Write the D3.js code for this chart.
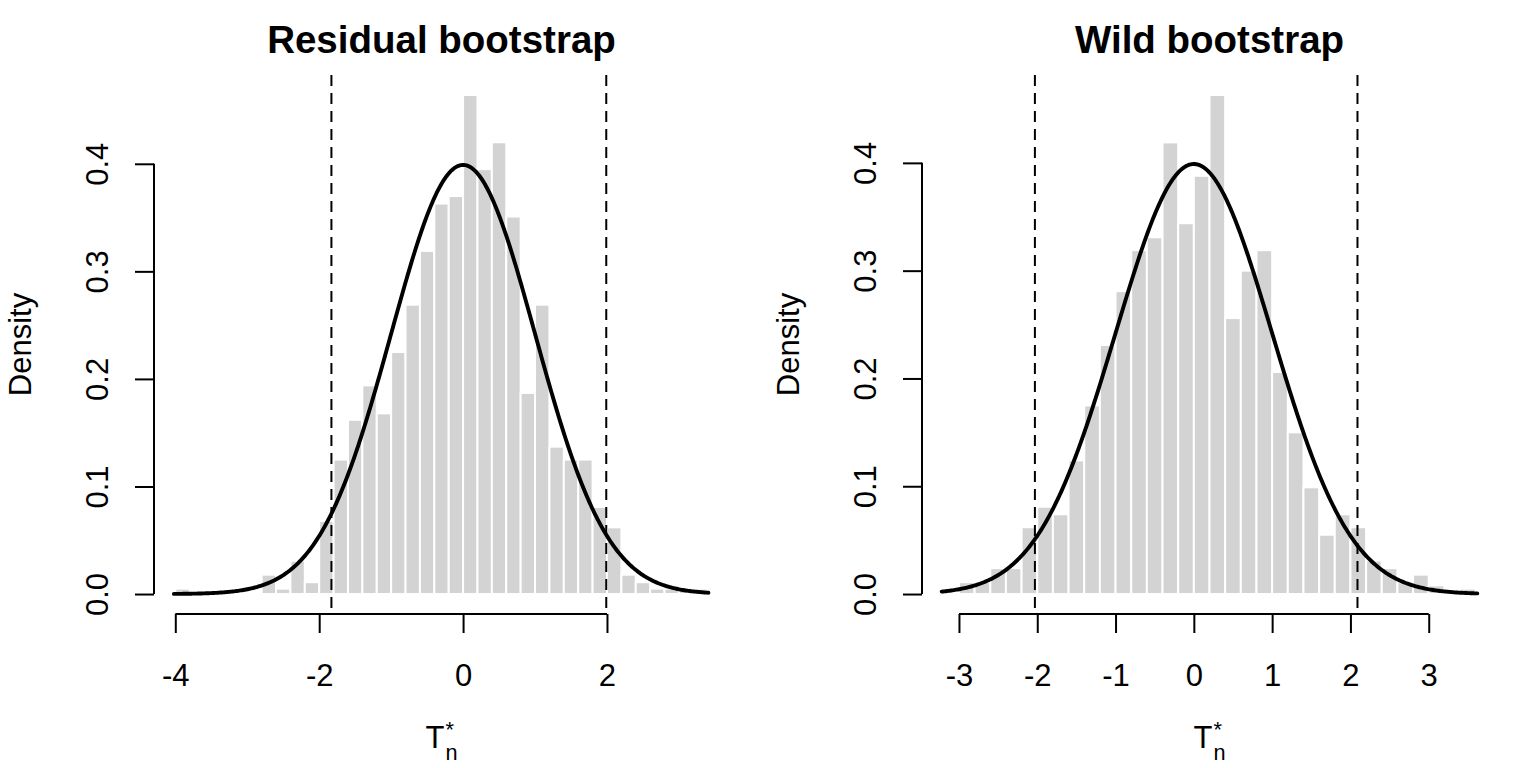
<!DOCTYPE html>
<html>
<head>
<meta charset="utf-8">
<script src="https://cdn.jsdelivr.net/npm/d3@7"></script>
<style>
  html, body { margin: 0; padding: 0; background: #ffffff; }
  svg { display: block; }
  text { font-family: "Liberation Sans", Arial, Helvetica, sans-serif; fill: #000; }
</style>
</head>
<body>
<svg id="chart" width="1536" height="768"></svg>
<script>
// ---------------- data ----------------
const panelTitles = ["Residual bootstrap", "Wild bootstrap"];
const binWidth = 0.2;

// Residual bootstrap histogram (density per bin), first break = -4.0
const residualBreakStart = -4.0;
const residualDensity = [
  0.005, 0, 0, 0, 0, 0, 0.018, 0.005, 0.031, 0.011,
  0.068, 0.125, 0.162, 0.194, 0.168, 0.225, 0.269, 0.319, 0.363, 0.370,
  0.464, 0.395, 0.420, 0.351, 0.187, 0.269, 0.137, 0.125, 0.125, 0.081,
  0.062, 0.018, 0.011, 0.005, 0.005, 0.005, 0.005
];
const residualXlim = [-4.0, 3.4];
const residualTicks = [-4, -2, 0, 2];
const residualCritical = [-1.83, 1.99];
const residualCurveRange = [-4.02, 3.41];

// Wild bootstrap histogram (density per bin), first break = -3.2
const wildBreakStart = -3.2;
const wildDensity = [
  0, 0.011, 0.011, 0.024, 0.024, 0.062, 0.081, 0.074, 0.124, 0.175,
  0.231, 0.281, 0.319, 0.331, 0.419, 0.344, 0.388, 0.463, 0.256, 0.300,
  0.319, 0.206, 0.150, 0.099, 0.055, 0.074, 0.062, 0.031, 0.024, 0.011,
  0.018, 0.008, 0, 0.005
];
const wildXlim = [-3.2, 3.6];
const wildTicks = [-3, -2, -1, 0, 1, 2, 3];
const wildCritical = [-2.03, 2.09];
const wildCurveRange = [-3.22, 3.62];

const densityTicks = [0, 0.1, 0.2, 0.3, 0.4];
// reference N(0,1) density overlay parameters
const normalMean = 0, normalSd = 1;

// ---------------- drawing ----------------
const svg = d3.select("#chart");
const panelW = 768;
const mLeft = 154, mRight = 39, plotTop = 75, plotBottom = 614;
const baseFont = 31;
const titleFont = 38.5;
const tickLen = 19;

function dnorm(v) {
  const z = (v - normalMean) / normalSd;
  return Math.exp(-0.5 * z * z) / (normalSd * Math.sqrt(2 * Math.PI));
}

const panels = [
  { title: panelTitles[0], start: residualBreakStart, dens: residualDensity, xlim: residualXlim,
    ticks: residualTicks, crit: residualCritical, curve: residualCurveRange },
  { title: panelTitles[1], start: wildBreakStart, dens: wildDensity, xlim: wildXlim,
    ticks: wildTicks, crit: wildCritical, curve: wildCurveRange }
];

panels.forEach((p, i) => {
  const ox = i * panelW;
  const g = svg.append("g");
  const xr = p.xlim[1] - p.xlim[0];
  const x = d3.scaleLinear()
    .domain([p.xlim[0] - 0.04 * xr, p.xlim[1] + 0.04 * xr])
    .range([ox + mLeft, ox + panelW - mRight]);
  const ymax = d3.max(p.dens);
  const y = d3.scaleLinear()
    .domain([-0.04 * ymax, 1.04 * ymax])
    .range([plotBottom, plotTop]);

  const bins = p.dens.map((d, k) => ({ x0: p.start + k * binWidth, x1: p.start + (k + 1) * binWidth, d }));

  // bars
  g.append("g").selectAll("rect").data(bins.filter(b => b.d > 0)).join("rect")
    .attr("x", b => x(b.x0))
    .attr("width", b => x(b.x1) - x(b.x0))
    .attr("y", b => y(b.d))
    .attr("height", b => y(0) - y(b.d))
    .attr("fill", "#d3d3d3")
    .attr("stroke", "#ffffff")
    .attr("stroke-width", 2);

  // normal density curve
  const n = 400;
  const xs = d3.range(n + 1).map(k => p.curve[0] + (p.curve[1] - p.curve[0]) * k / n);
  g.append("path")
    .datum(xs)
    .attr("d", d3.line().x(v => x(v)).y(v => y(dnorm(v))))
    .attr("fill", "none")
    .attr("stroke", "#000")
    .attr("stroke-width", 3.9)
    .attr("stroke-linejoin", "round")
    .attr("stroke-linecap", "round");

  // critical value dashed lines
  g.append("g").selectAll("line").data(p.crit).join("line")
    .attr("x1", c => x(c)).attr("x2", c => x(c))
    .attr("y1", plotTop).attr("y2", plotBottom)
    .attr("stroke", "#000")
    .attr("stroke-width", 2)
    .attr("stroke-dasharray", "11,7");

  // x axis
  const xAxis = d3.axisBottom(x).tickValues(p.ticks).tickSize(tickLen).tickPadding(31)
    .tickFormat(d3.format("d"));
  const gx = g.append("g").attr("transform", `translate(0,${plotBottom})`).call(xAxis);
  gx.select(".domain").remove();
  gx.append("line")
    .attr("x1", x(p.ticks[0])).attr("x2", x(p.ticks[p.ticks.length - 1]))
    .attr("y1", 0).attr("y2", 0)
    .attr("stroke", "#000").attr("stroke-width", 2);
  gx.selectAll(".tick line").attr("stroke-width", 2);
  gx.selectAll(".tick text")
    .attr("font-size", baseFont)
    .attr("font-family", "Liberation Sans, Arial, sans-serif")
    .text(d => d < 0 ? "-" + Math.abs(d) : String(d));

  // y axis
  const yAxisPos = ox + mLeft;
  const yAxis = d3.axisLeft(y).tickValues(densityTicks).tickSize(tickLen)
    .tickFormat(d3.format(".1f"));
  const gy = g.append("g").attr("transform", `translate(${yAxisPos},0)`).call(yAxis);
  gy.select(".domain").remove();
  gy.append("line")
    .attr("x1", 0).attr("x2", 0)
    .attr("y1", y(densityTicks[0])).attr("y2", y(densityTicks[densityTicks.length - 1]))
    .attr("stroke", "#000").attr("stroke-width", 2);
  gy.selectAll(".tick line").attr("stroke-width", 2);
  gy.selectAll(".tick text")
    .attr("font-size", baseFont)
    .attr("font-family", "Liberation Sans, Arial, sans-serif")
    .attr("x", null).attr("dy", null)
    .attr("text-anchor", "middle")
    .attr("transform", "translate(-46,0) rotate(-90)");

  // titles
  const cx = (x.range()[0] + x.range()[1]) / 2;
  g.append("text")
    .attr("x", cx).attr("y", 53)
    .attr("text-anchor", "middle")
    .attr("font-size", titleFont)
    .attr("font-weight", "bold")
    .text(p.title);

  // y label
  g.append("text")
    .attr("transform", `translate(${ox + 31},${(plotTop + plotBottom) / 2}) rotate(-90)`)
    .attr("text-anchor", "middle")
    .attr("font-size", baseFont)
    .text("Density");

  // x label T_n^*
  const lab = g.append("g");
  const tText = lab.append("text").attr("font-size", baseFont).attr("y", 748).text("T");
  const tW = tText.node().getComputedTextLength();
  const subSize = baseFont * 0.7;
  const sup = lab.append("text").attr("font-size", subSize).attr("y", 737).text("*");
  const sub = lab.append("text").attr("font-size", subSize).attr("y", 760).text("n");
  const sW = Math.max(sup.node().getComputedTextLength(), sub.node().getComputedTextLength());
  const total = tW + 1 + sW;
  const lx = cx - total / 2;
  tText.attr("x", lx);
  sup.attr("x", lx + tW + 1);
  sub.attr("x", lx + tW + 1);
});
</script>
</body>
</html>
